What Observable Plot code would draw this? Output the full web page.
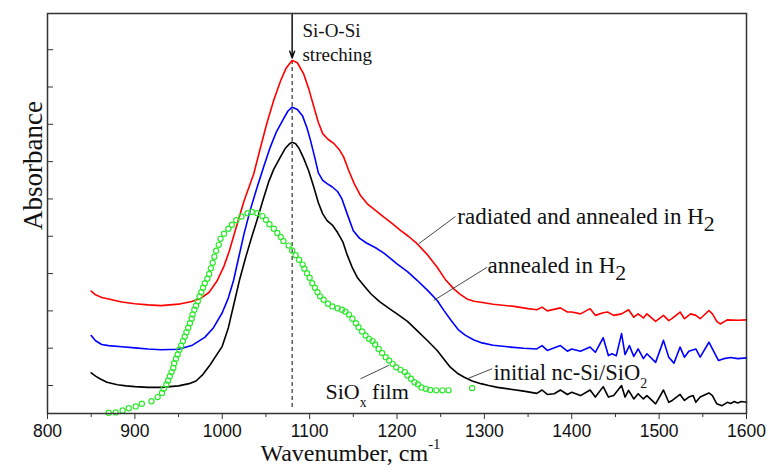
<!DOCTYPE html>
<html>
<head>
<meta charset="utf-8">
<script src="https://cdn.jsdelivr.net/npm/d3@7"></script>
<script src="https://cdn.jsdelivr.net/npm/@observablehq/plot@0.6"></script>
<style>
  html, body { margin: 0; padding: 0; background: #fff; }
  #chart { width: 769px; height: 472px; }
</style>
</head>
<body>
<div id="chart"></div>
<script>
// ---------- data (wavenumber cm^-1, absorbance arb. units) ----------
const xMajorTicks = [800, 900, 1000, 1100, 1200, 1300, 1400, 1500, 1600];
const xMinorTicks = [850, 950, 1050, 1150, 1250, 1350, 1450, 1550];
const yTicks = [1, 2, 3, 4, 5, 6, 7, 8, 9, 10];

const initialFilm = [
  [850,1.34],[855,1.25],[860,1.18],[868,1.09],[880,1.02],[890,0.99],[900,0.97],[915,0.95],[930,0.95],
  [950,0.99],[962,1.05],[970,1.12],[978,1.3],[986,1.55],[993,1.8],[1000,2.05],[1007,2.55],[1013,3.15],
  [1020,3.85],[1027,4.45],[1034,5.0],[1040,5.45],[1047,6.0],[1053,6.45],[1059,6.8],[1066,7.1],
  [1072,7.35],[1077,7.48],[1080,7.52],[1084,7.48],[1088,7.35],[1093,7.1],[1099,6.75],[1105,6.3],
  [1110,5.9],[1115,5.6],[1120,5.42],[1126,5.3],[1132,5.1],[1138,4.85],[1143,4.5],[1149,4.15],
  [1155,3.88],[1162,3.68],[1170,3.46],[1180,3.25],[1190,3.08],[1200,2.92],[1212,2.72],[1223,2.47],
  [1235,2.2],[1246,1.94],[1254,1.7],[1261,1.49],[1269,1.33],[1277,1.22],[1286,1.12],[1296,1.05],
  [1305,1.0],[1315,0.95],[1330,0.9],[1345,0.85],[1360,0.79],[1366,0.88],[1372,0.76],[1380,0.78],
  [1387,0.88],[1395,0.76],[1400,0.82],[1410,0.73],[1421,0.88],[1427,0.69],[1436,0.97],[1442,0.69],
  [1448,0.73],[1457,1.0],[1461,0.69],[1465,0.87],[1471,0.64],[1476,0.78],[1482,0.64],[1486,0.73],
  [1496,0.51],[1505,0.88],[1511,0.55],[1515,0.6],[1524,0.76],[1529,0.6],[1534,0.69],[1539,0.73],
  [1542,0.55],[1547,0.69],[1557,0.8],[1561,0.73],[1566,0.51],[1572,0.46],[1578,0.55],[1582,0.52],
  [1586,0.57],[1590,0.53],[1594,0.57],[1600,0.55]
];

const annealedH2 = [
  [850,2.34],[855,2.2],[862,2.1],[870,2.07],[885,2.04],[900,2.01],[915,1.98],[930,1.96],[950,1.97],
  [965,2.07],[980,2.29],[990,2.55],[1000,2.95],[1007,3.35],[1013,3.82],[1019,4.45],[1025,5.07],
  [1032,5.7],[1040,6.32],[1048,6.9],[1055,7.39],[1062,7.8],[1069,8.1],[1075,8.35],[1080,8.46],
  [1086,8.4],[1092,8.22],[1097,7.9],[1101,7.57],[1106,7.1],[1110,6.7],[1115,6.5],[1120,6.41],
  [1126,6.32],[1132,6.2],[1137,6.0],[1143,5.6],[1150,5.15],[1157,4.95],[1165,4.82],[1175,4.7],
  [1185,4.55],[1200,4.26],[1212,4.05],[1223,3.82],[1235,3.55],[1246,3.28],[1254,3.0],[1262,2.74],
  [1270,2.5],[1278,2.35],[1288,2.22],[1296,2.15],[1310,2.08],[1330,2.03],[1345,2.0],[1360,1.98],
  [1366,2.07],[1372,1.94],[1387,2.07],[1395,1.92],[1400,1.98],[1410,1.92],[1421,2.03],[1427,1.89],
  [1436,2.28],[1442,1.8],[1446,1.85],[1451,1.8],[1457,2.39],[1461,1.83],[1466,2.07],[1471,1.78],
  [1476,1.98],[1482,1.72],[1486,1.85],[1496,1.62],[1505,2.21],[1511,1.76],[1517,1.6],[1524,2.03],
  [1529,1.76],[1534,1.92],[1542,1.98],[1547,1.76],[1557,2.16],[1561,1.98],[1568,1.67],[1574,1.72],
  [1582,1.75],[1590,1.72],[1600,1.74]
];

const radiatedAnnealedH2 = [
  [850,3.53],[855,3.43],[862,3.36],[870,3.32],[885,3.24],[900,3.19],[915,3.16],[930,3.14],[950,3.18],
  [965,3.25],[975,3.33],[985,3.5],[994,3.8],[1002,4.2],[1008,4.6],[1015,5.16],[1025,5.95],[1036,6.67],
  [1044,7.4],[1051,8.02],[1059,8.65],[1067,9.18],[1073,9.5],[1080,9.71],[1086,9.65],[1093,9.36],
  [1099,8.95],[1105,8.46],[1110,8.05],[1115,7.75],[1121,7.6],[1128,7.48],[1134,7.32],[1139,7.12],
  [1145,6.75],[1151,6.41],[1158,6.1],[1166,5.87],[1175,5.7],[1185,5.51],[1195,5.33],[1204,5.16],
  [1213,5.0],[1223,4.8],[1235,4.5],[1246,4.17],[1255,3.85],[1265,3.59],[1272,3.45],[1280,3.32],
  [1288,3.26],[1296,3.23],[1310,3.18],[1334,3.12],[1350,3.06],[1360,3.03],[1366,3.1],[1372,3.0],
  [1387,3.08],[1395,2.97],[1400,2.97],[1410,2.92],[1421,3.06],[1427,2.88],[1436,2.95],[1441,2.97],
  [1448,2.88],[1457,2.92],[1465,3.03],[1471,2.83],[1476,2.92],[1482,2.81],[1486,2.92],[1496,2.72],
  [1505,2.88],[1511,2.74],[1515,2.8],[1524,2.97],[1529,2.79],[1536,2.92],[1542,2.88],[1547,2.79],
  [1557,3.01],[1561,2.92],[1566,2.72],[1570,2.65],[1578,2.76],[1590,2.75],[1600,2.76]
];

const siox = [
  [870,0.27],[878,0.28],[886,0.33],[893,0.39],[901,0.44],[908,0.51],[919,0.58],[926,0.69],[931,0.8],
  [933,0.91],[936,1.03],[938,1.13],[940,1.25],[942,1.36],[944,1.47],[945,1.6],[947,1.72],[949,1.83],
  [951,1.96],[953,2.07],[955,2.19],[957,2.31],[959,2.43],[961,2.55],[963,2.67],[965,2.79],[966,2.9],
  [968,3.03],[970,3.14],[972,3.26],[974,3.39],[976,3.5],[978,3.62],[980,3.74],[983,3.86],[985,3.99],
  [987,4.14],[989,4.29],[991,4.45],[993,4.61],[996,4.77],[998,4.93],[1002,5.07],[1007,5.2],[1011,5.31],
  [1016,5.43],[1022,5.53],[1029,5.62],[1034,5.65],[1040,5.62],[1046,5.54],[1050,5.44],[1054,5.32],
  [1059,5.2],[1063,5.09],[1067,4.98],[1070,4.87],[1076,4.75],[1080,4.62],[1084,4.49],[1088,4.37],
  [1092,4.24],[1094,4.13],[1097,4.01],[1100,3.89],[1103,3.74],[1106,3.62],[1109,3.5],[1112,3.39],
  [1116,3.3],[1121,3.19],[1126,3.12],[1132,3.07],[1137,3.03],[1141,2.98],[1145,2.9],[1149,2.79],
  [1153,2.67],[1156,2.56],[1160,2.45],[1164,2.34],[1168,2.25],[1172,2.19],[1175,2.1],[1179,1.98],
  [1183,1.87],[1187,1.76],[1191,1.67],[1195,1.58],[1199,1.49],[1204,1.42],[1209,1.36],[1212,1.27],
  [1216,1.18],[1220,1.09],[1224,1.03],[1228,0.95],[1233,0.91],[1238,0.88],[1245,0.87],[1252,0.87],
  [1259,0.87],[1286,0.93]
];

const peakLine = [{x: 1080, y1: 0.41, y2: 9.71}];
const arrowSeg = [{x: 1080, y1: 10.97, y2: 9.78}];

// annotation labels and leader lines
const labels = [
  {text: "radiated and annealed in H__{2}", x: 1269, y: 5.53, size: 23},
  {text: "annealed in H__{2}", x: 1303.6, y: 4.21, size: 23},
  {text: "initial nc-Si/SiO_{2}", x: 1310.4, y: 1.35, size: 22.5},
  {text: "SiO_{x} film", x: 1118.2, y: 0.83, size: 22},
  {text: "Si-O-Si", x: 1091.8, y: 10.5, size: 19},
  {text: "streching", x: 1091.8, y: 9.86, size: 19}
];
const leaders = [
  {x1: 1224.9, y1: 4.80, x2: 1266.9, y2: 5.53},
  {x1: 1242.1, y1: 3.28, x2: 1303.2, y2: 4.17},
  {x1: 1280.3, y1: 1.18, x2: 1308.9, y2: 1.45},
  {x1: 1158.2, y1: 1.18, x2: 1190.6, y2: 1.54}
];
const xTitle = "Wavenumber, cm^{-1}";
const yTitle = "Absorbance";

// ---------- chart ----------
const serif = "'Liberation Serif', 'Times New Roman', serif";
const sans = "'Liberation Sans', Arial, sans-serif";
const lineOpts = {x: d => d[0], y: d => d[1], strokeWidth: 1.6, curve: "linear"};
const xDomain = [800, 1600];
const plotWidthPx = 769 - 47 - 23;
const inwardTick = 6 * (xDomain[1] - xDomain[0]) / plotWidthPx; // 6px expressed in x units

const chart = Plot.plot({
  width: 769,
  height: 472,
  marginLeft: 47,
  marginRight: 23,
  marginTop: 13,
  marginBottom: 59,
  style: {background: "#fff", color: "#111"},
  x: {domain: xDomain},
  y: {domain: [0.25, 10.97], axis: null},
  marks: [
    Plot.axisX({ticks: xMajorTicks, tickSize: 6, tickPadding: 5, fontSize: 17.5, fontFamily: sans,
      tickFormat: d => String(d), label: null, stroke: "#333"}),
    Plot.axisX({ticks: xMinorTicks, tickSize: 4, tickFormat: () => "", label: null, stroke: "#333"}),
    // inward y ticks (no labels in the reference)
    Plot.ruleY(yTicks, {y: d => d, x1: xDomain[0], x2: xDomain[0] + inwardTick, stroke: "#333", strokeWidth: 1}),
    Plot.ruleX(peakLine, {x: "x", y1: "y1", y2: "y2", stroke: "#222", strokeWidth: 1.1, strokeDasharray: "4,3"}),
    Plot.arrow(arrowSeg, {x1: "x", x2: "x", y1: "y1", y2: "y2", stroke: "#111", strokeWidth: 1.5,
      headLength: 7, headAngle: 40}),
    Plot.line(radiatedAnnealedH2, {...lineOpts, stroke: "#ff0000"}),
    Plot.line(annealedH2, {...lineOpts, stroke: "#0000ff"}),
    Plot.line(initialFilm, {...lineOpts, stroke: "#000000"}),
    Plot.dot(siox, {x: d => d[0], y: d => d[1], r: 2.6, stroke: "#30e830", strokeWidth: 1.2, fill: "none"}),
    Plot.link(leaders, {x1: "x1", y1: "y1", x2: "x2", y2: "y2", stroke: "#333", strokeWidth: 0.9}),
    ...labels.map(l => Plot.text([l], {x: "x", y: "y", text: "text", fontSize: l.size, textAnchor: "start",
      fontFamily: serif, fill: "#111"})),
    Plot.text([xTitle], {frameAnchor: "bottom-left", dx: 303, dy: 47, fontSize: 24, fontFamily: serif,
      textAnchor: "middle", fill: "#111"}),
    Plot.text([yTitle], {frameAnchor: "top-left", dx: -25, dy: 152, rotate: -90, fontSize: 27,
      fontFamily: serif, textAnchor: "middle", fill: "#111"}),
    Plot.frame({stroke: "#333", strokeWidth: 1.5})
  ]
});

document.getElementById("chart").appendChild(chart);

// sub/superscript post-processing: "_{..}" small sub, "__{..}" large sub, "^{..}" small sup
d3.select(chart).selectAll("text").each(function () {
  const el = this;
  const s = el.textContent;
  if (!/[_^]\{/.test(s)) return;
  const parts = s.split(/(__\{[^}]*\}|_\{[^}]*\}|\^\{[^}]*\})/).filter(p => p !== "");
  const sel = d3.select(el);
  const fsPx = parseFloat(getComputedStyle(el).fontSize) || 20;
  sel.text(null);
  let shift = 0;
  for (const p of parts) {
    let m, t = p, dy = 0, fs = null;
    if ((m = p.match(/^__\{(.*)\}$/))) { t = m[1]; dy = 0.3; fs = "95%"; }
    else if ((m = p.match(/^_\{(.*)\}$/))) { t = m[1]; dy = 0.38; fs = "62%"; }
    else if ((m = p.match(/^\^\{(.*)\}$/))) { t = m[1]; dy = -0.5; fs = "62%"; }
    const ts = sel.append("tspan").text(t);
    const target = dy * fsPx;
    const delta = target - shift;
    if (delta !== 0) ts.attr("dy", delta.toFixed(2));
    shift = target;
    if (fs) ts.attr("font-size", fs);
  }
});
</script>
</body>
</html>
